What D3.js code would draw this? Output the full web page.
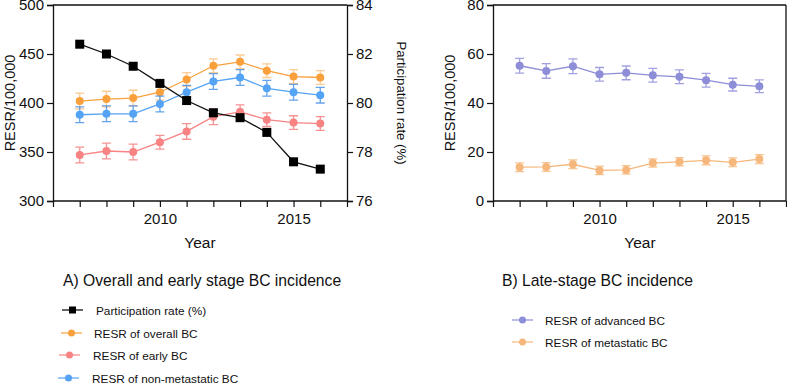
<!DOCTYPE html>
<html>
<head>
<meta charset="utf-8">
<script src="https://cdn.jsdelivr.net/npm/d3@7"></script>
<style>
  body { margin: 0; background: #fff; }
  text { font-family: "Liberation Sans", Arial, sans-serif; fill: #111; }
</style>
</head>
<body>
<svg id="chart" width="787" height="383"></svg>
<script>

var years = [2007, 2008, 2009, 2010, 2011, 2012, 2013, 2014, 2015, 2016]

// panel A
var participation = [82.4, 82.0, 81.5, 80.8, 80.1, 79.6, 79.4, 78.8, 77.6, 77.3]
var overallBC = [402, 404, 405, 411, 424, 438, 442, 433, 427, 426]
var earlyBC = [347, 351, 350, 360, 371, 386, 391, 383, 380, 379]
var nonMetaBC = [388, 389, 389, 399, 411, 422, 426, 415, 411, 408]
var overallErr = [8, 8, 8, 8, 7, 7, 7, 7, 7, 7]
var earlyErr = [8, 8, 8, 7, 8, 8, 7, 7, 7, 7]
var nonMetaErr = [8, 8, 8, 8, 7, 8, 8, 8, 8, 8]

// panel B
var advancedBC = [55.2, 53.1, 55.0, 51.7, 52.3, 51.3, 50.7, 49.3, 47.5, 46.8]
var metaBC = [13.8, 13.9, 15.0, 12.5, 12.7, 15.5, 16.0, 16.6, 15.8, 17.1]
var advancedErr = [3.0, 3.0, 3.0, 2.8, 2.8, 2.8, 2.8, 2.8, 2.6, 2.6]
var metaErr = [1.8, 1.8, 1.8, 1.7, 1.7, 1.7, 1.7, 1.8, 1.8, 1.8]

var leftTicks = [300, 350, 400, 450, 500]
var rightTicks = [76, 78, 80, 82, 84]
var bTicks = [0, 20, 40, 60, 80]
var yearTicks = [2010, 2015]

var svg = d3.select('#chart')

function drawFrame(g, x, y, yTicks, w, h){
    // x axis, ticks every year, labels on 2010 and 2015
    var xa = g.append('g').attr('transform', 'translate(0,' + h + ')')
        .call(d3.axisBottom(x).tickValues(d3.range(2006, 2018)).tickSize(6)
            .tickFormat(function(d){ return yearTicks.indexOf(d) >= 0 ? d : '' }))
    xa.selectAll('text').style('font-size', '15px').attr('dy', '0.95em')
    var ya = g.append('g')
        .call(d3.axisLeft(y).tickValues(yTicks).tickSize(6).tickPadding(3))
    ya.selectAll('text').style('font-size', '15px')
    g.selectAll('.domain').attr('stroke', '#111').attr('stroke-width', 1.3)
    g.selectAll('.tick line').attr('stroke', '#111').attr('stroke-width', 1.2)
    g.append('line').attr('x1', 0).attr('x2', w).attr('y1', 0).attr('y2', 0)
        .attr('stroke', '#111').attr('stroke-width', 1.3)
    g.select('.domain').attr('d', 'M0,0V0H' + w)
}

function drawSeries(g, x, y, vals, errs, color, errColor){
    var pts = years.map(function(yr, i){ return {yr: yr, v: vals[i], e: errs[i]} })
    var eg = g.append('g').attr('stroke', errColor).attr('stroke-width', 1.3).attr('fill', 'none')
    pts.forEach(function(p){
        var cx = x(p.yr)
        eg.append('path').attr('d',
            'M' + cx + ',' + y(p.v + p.e) + 'V' + y(p.v - p.e) +
            'M' + (cx - 4.5) + ',' + y(p.v + p.e) + 'H' + (cx + 4.5) +
            'M' + (cx - 4.5) + ',' + y(p.v - p.e) + 'H' + (cx + 4.5))
    })
    g.append('path').datum(pts)
        .attr('d', d3.line().x(function(d){ return x(d.yr) }).y(function(d){ return y(d.v) }))
        .attr('fill', 'none').attr('stroke', color).attr('stroke-width', 1.3)
    g.selectAll(null).data(pts).enter().append('circle')
        .attr('cx', function(d){ return x(d.yr) })
        .attr('cy', function(d){ return y(d.v) })
        .attr('r', 4).attr('fill', color)
}

function legendItem(g, lx, ly, tx, label, color, square){
    g.append('line').attr('x1', lx).attr('x2', lx + 21).attr('y1', ly).attr('y2', ly)
        .attr('stroke', color).attr('stroke-width', 1.2)
    if (square) {
        g.append('rect').attr('x', lx + 7).attr('y', ly - 3.5).attr('width', 7).attr('height', 7).attr('fill', color)
    } else {
        g.append('circle').attr('cx', lx + 10.5).attr('cy', ly).attr('r', 3.5).attr('fill', color)
    }
    g.append('text').attr('x', tx).attr('y', ly + 4.5).style('font-size', '11.8px').text(label)
}

// ---------- Panel A ----------
var aw = 294, ah = 196
var ga = svg.append('g').attr('transform', 'translate(53,5)')
var xa = d3.scaleLinear().domain([2006, 2017]).range([0, aw])
var ya = d3.scaleLinear().domain([300, 500]).range([ah, 0])
var yr = d3.scaleLinear().domain([76, 84]).range([ah, 0])

drawFrame(ga, xa, ya, leftTicks, aw, ah)
var ra = ga.append('g').attr('transform', 'translate(' + aw + ',0)')
    .call(d3.axisRight(yr).tickValues(rightTicks).tickSize(6).tickPadding(3))
ra.selectAll('text').style('font-size', '15px')
ra.select('.domain').attr('stroke', '#111').attr('stroke-width', 1.3)
ra.selectAll('.tick line').attr('stroke', '#111').attr('stroke-width', 1.2)

drawSeries(ga, xa, ya, overallBC, overallErr, '#F9A03C', 'rgba(249,160,60,0.55)')
drawSeries(ga, xa, ya, nonMetaBC, nonMetaErr, '#55A3F4', 'rgba(60,140,230,0.8)')
drawSeries(ga, xa, ya, earlyBC, earlyErr, '#F78383', 'rgba(245,120,120,0.8)')

var partPts = years.map(function(yrv, i){ return {yr: yrv, v: participation[i]} })
ga.append('path').datum(partPts)
    .attr('d', d3.line().x(function(d){ return xa(d.yr) }).y(function(d){ return yr(d.v) }))
    .attr('fill', 'none').attr('stroke', '#111').attr('stroke-width', 1.3)
ga.selectAll(null).data(partPts).enter().append('rect')
    .attr('x', function(d){ return xa(d.yr) - 4.5 })
    .attr('y', function(d){ return yr(d.v) - 4.5 })
    .attr('width', 9).attr('height', 9).attr('fill', '#000')

svg.append('text').attr('transform', 'translate(15,103) rotate(-90)')
    .attr('text-anchor', 'middle').style('font-size', '14.5px').text('RESR/100,000')
svg.append('text').attr('transform', 'translate(397,103) rotate(90)')
    .attr('text-anchor', 'middle').style('font-size', '13.2px').text('Participation rate (%)')
svg.append('text').attr('x', 200).attr('y', 248).attr('text-anchor', 'middle')
    .style('font-size', '15.5px').text('Year')

// ---------- Panel B ----------
var gb = svg.append('g').attr('transform', 'translate(493,5)')
var bw = 293
var xb = d3.scaleLinear().domain([2006, 2017]).range([0, bw])
var yb = d3.scaleLinear().domain([0, 80]).range([ah, 0])
drawFrame(gb, xb, yb, bTicks, bw, ah)
gb.append('line').attr('x1', bw).attr('x2', bw).attr('y1', 0).attr('y2', ah)
    .attr('stroke', '#111').attr('stroke-width', 1.3)

drawSeries(gb, xb, yb, advancedBC, advancedErr, '#8D8DD8', 'rgba(130,130,215,0.75)')
drawSeries(gb, xb, yb, metaBC, metaErr, '#F6B77C', 'rgba(244,176,110,0.75)')

svg.append('text').attr('transform', 'translate(455,103) rotate(-90)')
    .attr('text-anchor', 'middle').style('font-size', '14.5px').text('RESR/100,000')
svg.append('text').attr('x', 640).attr('y', 248).attr('text-anchor', 'middle')
    .style('font-size', '15.5px').text('Year')

// ---------- Legends ----------
var lg = svg.append('g')
lg.append('text').attr('x', 63).attr('y', 286).style('font-size', '15.7px')
    .text('A) Overall and early stage BC incidence')
legendItem(lg, 62, 310, 96, 'Participation rate (%)', '#000', true)
legendItem(lg, 61, 333, 94, 'RESR of overall BC', '#F9A03C', false)
legendItem(lg, 59, 355, 93, 'RESR of early BC', '#F78383', false)
legendItem(lg, 58, 378, 92, 'RESR of non-metastatic BC', '#55A3F4', false)

lg.append('text').attr('x', 502).attr('y', 286).style('font-size', '15.7px')
    .text('B) Late-stage BC incidence')
legendItem(lg, 512, 320, 545, 'RESR of advanced BC', '#8D8DD8', false)
legendItem(lg, 512, 342, 545, 'RESR of metastatic BC', '#F6B77C', false)

</script>
</body>
</html>
